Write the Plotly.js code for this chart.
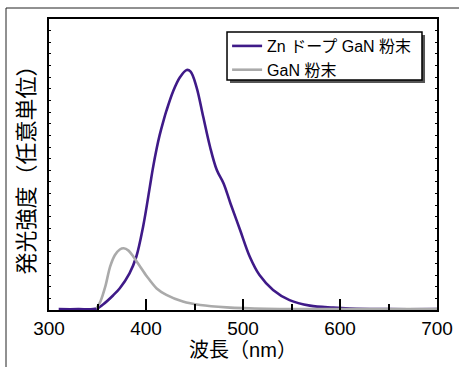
<!DOCTYPE html>
<html><head><meta charset="utf-8">
<script src="https://cdn.plot.ly/plotly-3.0.1.min.js"></script>
<style>html,body{margin:0;padding:0;background:#fff;}#chart{width:459px;height:367px;}</style>
</head><body><div id="chart"></div>
<script>
const znWavelength = [310,330,349,356,366,373,383,390,397,404,407,411,414,418,421,428,435,442,446,452,459,466,473,480,487,497,507,517,531,548,569,593,610,650,700];
const znIntensity  = [0.003,0.003,0.005,0.02,0.05,0.075,0.126,0.183,0.286,0.424,0.485,0.555,0.600,0.650,0.684,0.752,0.800,0.825,0.819,0.767,0.664,0.561,0.481,0.435,0.367,0.275,0.183,0.12,0.069,0.034,0.015,0.008,0.005,0.003,0.003];
const ganWavelength = [349,353,358,363,368,373,377,382,387,394,401,411,421,438,456,483,524,593,650,700];
const ganIntensity  = [0.005,0.029,0.08,0.149,0.189,0.208,0.212,0.204,0.183,0.149,0.115,0.074,0.052,0.029,0.017,0.009,0.004,0.003,0.003,0.003];
const seriesNames = ['Zn ドープ GaN 粉末','GaN 粉末'];
const xTickVals = [300,400,500,600,700];

const FONT = 'Liberation Sans, Arial, Noto Sans CJK JP, sans-serif';
const traces = [
  {x: znWavelength, y: znIntensity, name: seriesNames[0], mode:'lines', line:{color:'#3f1a88', width:2.6, shape:'spline', smoothing:1}},
  {x: ganWavelength, y: ganIntensity, name: seriesNames[1], mode:'lines', line:{color:'#aaaaaa', width:2.6, shape:'spline', smoothing:0.8}}
];
const layout = {
  width:459, height:367,
  margin:{l:49, r:22, t:19, b:57},
  paper_bgcolor:'#fff', plot_bgcolor:'#fff',
  font:{family:FONT, color:'#000'},
  showlegend:true,
  legend:{x:0.459, y:0.9656, xanchor:'left', yanchor:'top', bgcolor:'rgba(0,0,0,0)', borderwidth:0,
    font:{size:16, family:FONT}, tracegroupgap:0},
  xaxis:{range:[300,700], tickvals:xTickVals, ticks:'inside', ticklen:11, tickwidth:2, tickcolor:'#000',
    minor:{dtick:50, tick0:300, ticks:'inside', ticklen:6, tickwidth:2, tickcolor:'#000'},
    showline:true, linecolor:'#000', linewidth:2, mirror:true, showgrid:false, zeroline:false,
    tickfont:{size:19, family:FONT},
    title:{text:'波長（nm）', font:{size:20, family:FONT}, standoff:0}},
  yaxis:{range:[0,1], dtick:0.04, ticks:'inside', ticklen:2, tickwidth:1, tickcolor:'#000',
    showticklabels:false, showline:true, linecolor:'#000', linewidth:2, mirror:'ticks', showgrid:false, zeroline:false,
    title:{text:'発光強度（任意単位）', font:{size:22, family:FONT}, standoff:6}},
  shapes:[
    {type:'path', xref:'paper', yref:'paper', path:'M -0.1108 -0.3 L -0.1108 1.0378 L 1.2 1.0378', line:{color:'#222', width:1}},
    {type:'rect', xref:'paper', yref:'paper', x0:0.4665, x1:0.9691, y0:0.780, y1:0.945, fillcolor:'#555', line:{width:0}},
    {type:'rect', xref:'paper', yref:'paper', x0:0.4588, x1:0.9613, y0:0.7904, y1:0.9553, fillcolor:'#fff', line:{color:'#000', width:1.5}}
  ]
};
Plotly.newPlot('chart', traces, layout, {displayModeBar:false, staticPlot:true});
</script></body></html>
